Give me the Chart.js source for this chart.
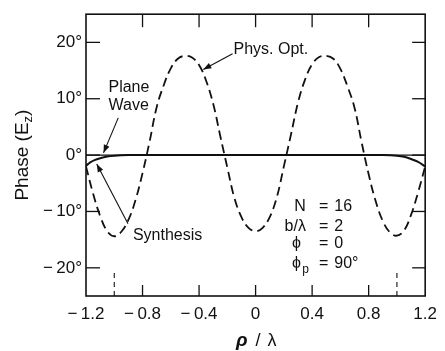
<!DOCTYPE html>
<html lang="en">
<head>
  <meta charset="UTF-8">
  <title>Phase (Ez) vs rho/lambda</title>
  <script src="https://cdn.jsdelivr.net/npm/chart.js"></script>
  <style>
    body { margin: 0; background: #fff; }
    canvas { display: block; }
  </style>
</head>
<body>
  <canvas id="phaseChart" width="445" height="351"></canvas>

  <script>
    // data
    const rho = [-1.2, -1.15, -1.1, -1.05, -1.0, -0.95, -0.9, -0.85, -0.8, -0.75, -0.7, -0.65, -0.6,
      -0.55, -0.5, -0.45, -0.4, -0.35, -0.3, -0.25, -0.2, -0.15, -0.1, -0.05, 0,
      0.05, 0.1, 0.15, 0.2, 0.25, 0.3, 0.35, 0.4, 0.45, 0.5, 0.55, 0.6,
      0.65, 0.7, 0.75, 0.8, 0.85, 0.9, 0.95, 1.0, 1.05, 1.1, 1.15, 1.2];
    const physOpt = [-2.0, -6.8, -10.8, -13.5, -14.4, -13.6, -11.5, -8.0, -3.2, 2.4, 8.5, 12.4, 15.4,
      17.1, 17.6, 17.3, 16.0, 13.2, 9.1, 3.4, -2.2, -7.6, -11.0, -12.9, -13.5,
      -12.9, -11.0, -7.5, -2.0, 3.6, 9.3, 13.4, 16.1, 17.4, 17.6, 17.1, 15.3,
      12.2, 8.4, 2.3, -3.4, -8.2, -11.7, -13.7, -14.3, -13.4, -10.6, -6.6, -2.0];

    const synthRho = [-1.2, -1.17, -1.14, -1.1, -1.05, -1.0, -0.9, 0.9, 1.0, 1.05, 1.1, 1.15, 1.2];
    const synthesis = [-1.9, -1.3, -0.9, -0.55, -0.25, -0.1, 0, 0, -0.1, -0.3, -0.7, -1.2, -2.0];

    const planeRho = [-1.2, 1.2];
    const planeWave = [0, 0];

    const edgeRho = [-1.0, 1.0];
    const edgeSpan = [-25, -20.3];

    const xTicks = [-1.2, -0.8, -0.4, 0, 0.4, 0.8, 1.2];
    const yTicks = [-20, -10, 0, 10, 20];

    const pts = (xs, ys) => xs.map((v, i) => ({ x: v, y: ys[i] }));
    const fmtNum = v => (v < 0 ? '\u2212\u2009' : '') + Math.abs(v);

    const FONT = '"Liberation Sans", Arial, sans-serif';

    function line(ctx, x1, y1, x2, y2) {
      ctx.beginPath(); ctx.moveTo(x1, y1); ctx.lineTo(x2, y2); ctx.stroke();
    }

    function arrow(ctx, x1, y1, x2, y2) {
      line(ctx, x1, y1, x2, y2);
      const ang = Math.atan2(y2 - y1, x2 - x1);
      const len = 8, w = 3;
      ctx.beginPath();
      ctx.moveTo(x2, y2);
      ctx.lineTo(x2 - len * Math.cos(ang) + w * Math.sin(ang), y2 - len * Math.sin(ang) - w * Math.cos(ang));
      ctx.lineTo(x2 - len * Math.cos(ang) - w * Math.sin(ang), y2 - len * Math.sin(ang) + w * Math.cos(ang));
      ctx.closePath();
      ctx.fill();
    }

    // frame, inside ticks, titles and labels
    const decor = {
      id: 'decor',
      afterDraw(chart) {
        const { ctx, chartArea: a, scales: { x, y } } = chart;
        const px = v => x.getPixelForValue(v);
        const py = v => y.getPixelForValue(v);
        ctx.save();
        ctx.strokeStyle = '#111';
        ctx.fillStyle = '#111';

        ctx.lineWidth = 1.6;
        ctx.strokeRect(a.left, a.top, a.width, a.height);

        ctx.lineWidth = 1.3;
        xTicks.slice(1, -1).forEach(v => {
          line(ctx, px(v), a.bottom, px(v), a.bottom - 11);
          line(ctx, px(v), a.top, px(v), a.top + 13);
        });
        yTicks.forEach(v => {
          line(ctx, a.left, py(v), a.left + 14, py(v));
          line(ctx, a.right, py(v), a.right - 13, py(v));
        });

        // y title
        ctx.save();
        ctx.translate(21, (a.top + a.bottom) / 2);
        ctx.rotate(-Math.PI / 2);
        ctx.textBaseline = 'alphabetic';
        ctx.font = '19px ' + FONT;
        const t1 = 'Phase (E', t3 = ')';
        const w1 = ctx.measureText(t1).width, w3 = ctx.measureText(t3).width;
        ctx.font = '13px ' + FONT;
        const w2 = ctx.measureText('z').width;
        let sx = -(w1 + w2 + w3) / 2;
        ctx.font = '19px ' + FONT;
        ctx.textAlign = 'left';
        ctx.fillText(t1, sx, 7);
        ctx.font = '13px ' + FONT;
        ctx.fillText('z', sx + w1, 11);
        ctx.font = '19px ' + FONT;
        ctx.fillText(t3, sx + w1 + w2, 7);
        ctx.restore();

        // x title
        ctx.textBaseline = 'alphabetic';
        ctx.textAlign = 'left';
        ctx.font = 'italic bold 19px ' + FONT;
        ctx.fillText('\u03c1', 236, 346);
        ctx.font = '18px ' + FONT;
        ctx.textAlign = 'center';
        ctx.fillText('/', 258, 346);
        ctx.fillText('\u03bb', 272, 346);

        // curve labels
        ctx.font = '16px ' + FONT;
        ctx.textAlign = 'left';
        ctx.textBaseline = 'middle';
        ctx.fillText('Phys. Opt.', px(-0.156), py(18.7));
        ctx.fillText('Plane', px(-1.041), py(11.9));
        ctx.fillText('Wave', px(-1.041), py(8.7));
        ctx.fillText('Synthesis', px(-0.868), py(-14.3));

        ctx.lineWidth = 1.1;
        arrow(ctx, px(-0.163), py(18.0), px(-0.370), py(15.2));
        arrow(ctx, px(-0.972), py(6.6), px(-1.076), py(0.4));
        arrow(ctx, px(-0.903), py(-12.2), px(-1.124), py(-1.6));

        // parameter block
        ctx.font = '16px ' + FONT;
        const rows = [
          ['N', '16', -9.1],
          ['b/\u03bb', '2', -12.6],
          ['\u03d5', '0', -15.7],
          ['\u03d5', '90\u00b0', -19.2]
        ];
        rows.forEach(([lab, val, yv], i) => {
          if (i < 2) {
            ctx.textAlign = 'right';
            ctx.fillText(lab, px(0.356), py(yv));
          } else {
            ctx.textAlign = 'center';
            ctx.fillText(lab, px(0.29), py(yv));
          }
          ctx.textAlign = 'center';
          ctx.fillText('=', px(0.481), py(yv));
          ctx.textAlign = 'left';
          ctx.fillText(val, px(0.557), py(yv));
        });
        ctx.font = '12px ' + FONT;
        ctx.textAlign = 'left';
        ctx.fillText('p', px(0.33), py(-20.4));

        ctx.restore();
      }
    };

    const ctx = document.getElementById('phaseChart').getContext('2d');
    const chart = new Chart(ctx, {
      type: 'line',
      data: {
        datasets: [
          {
            label: 'Phys. Opt.',
            data: pts(rho, physOpt),
            borderColor: '#111', borderWidth: 1.8, borderDash: [9, 5],
            pointRadius: 0, tension: 0.4, fill: false
          },
          {
            label: 'Plane Wave',
            data: pts(planeRho, planeWave),
            borderColor: '#111', borderWidth: 1.2,
            pointRadius: 0, fill: false
          },
          {
            label: 'Synthesis',
            data: pts(synthRho, synthesis),
            borderColor: '#111', borderWidth: 2.0,
            pointRadius: 0, cubicInterpolationMode: 'monotone', fill: false
          },
          {
            label: 'edge -',
            data: pts([edgeRho[0], edgeRho[0]], edgeSpan),
            borderColor: '#111', borderWidth: 1.1, borderDash: [5, 4],
            pointRadius: 0, fill: false
          },
          {
            label: 'edge +',
            data: pts([edgeRho[1], edgeRho[1]], edgeSpan),
            borderColor: '#111', borderWidth: 1.1, borderDash: [5, 4],
            pointRadius: 0, fill: false
          }
        ]
      },
      options: {
        responsive: false,
        animation: false,
        layout: { padding: { top: 10, right: 12, left: 0, bottom: 0 } },
        plugins: { legend: { display: false }, tooltip: { enabled: false } },
        scales: {
          x: {
            type: 'linear', min: -1.2, max: 1.2,
            grid: { display: false, drawTicks: false },
            border: { display: false },
            afterBuildTicks: s => { s.ticks = xTicks.map(v => ({ value: v })); },
            afterFit: s => { s.height = 55; },
            ticks: {
              padding: 8, color: '#111', maxRotation: 0,
              font: { family: FONT, size: 17 },
              callback: v => fmtNum(v)
            }
          },
          y: {
            min: -25, max: 25,
            grid: { display: false, drawTicks: false },
            border: { display: false },
            afterBuildTicks: s => { s.ticks = yTicks.map(v => ({ value: v })); },
            afterFit: s => { s.width = 86; },
            ticks: {
              padding: 4, color: '#111',
              font: { family: FONT, size: 17 },
              callback: v => fmtNum(v) + '\u00b0'
            }
          }
        }
      },
      plugins: [decor]
    });
  </script>
</body>
</html>
